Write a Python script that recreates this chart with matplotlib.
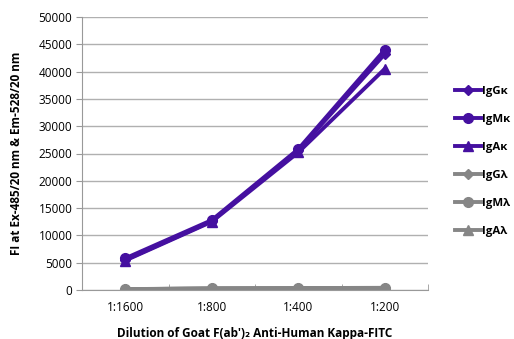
import matplotlib
matplotlib.use("Agg")
import matplotlib.pyplot as plt
import numpy as np

categories = ["1:1600", "1:800", "1:400", "1:200"]
series_names = ["IgG\u03ba", "IgM\u03ba", "IgA\u03ba", "IgG\u03bb", "IgM\u03bb", "IgA\u03bb"]
igg_k = [5500, 12600, 25600, 43200]
igm_k = [5800, 12800, 25800, 44000]
iga_k = [5400, 12500, 25200, 40500]
igg_l = [150, 280, 330, 380]
igm_l = [160, 300, 350, 400]
iga_l = [140, 270, 320, 370]
yticks = [0, 5000, 10000, 15000, 20000, 25000, 30000, 35000, 40000, 45000, 50000]

purple = "#4510a0"
gray = "#868686"
data = [igg_k, igm_k, iga_k, igg_l, igm_l, iga_l]
colors = [purple, purple, purple, gray, gray, gray]
markers = ["D", "o", "^", "D", "o", "^"]
msizes = [5, 7, 7, 5, 7, 7]

plt.rcParams['font.family'] = ['Open Sans', 'DejaVu Sans']
fig = plt.figure(figsize=(5.14, 3.39), dpi=100)
ax = fig.add_axes([82/514, 1 - 290/339, (428-82)/514, (290-17)/339])

x = np.arange(len(categories))
for vals, c, m, ms, name in zip(data, colors, markers, msizes, series_names):
    ax.plot(x, vals, color=c, marker=m, markersize=ms, linewidth=2.8, label=name)

ax.set_xlim(-0.5, len(categories) - 0.5)
ax.set_ylim(0, 50000)
ax.set_yticks(yticks)
ax.set_yticklabels([str(t) for t in yticks], fontsize=8.5)
ax.set_xticks(x)
ax.set_xticklabels(categories, fontsize=8.5)
ax.set_xticks(np.arange(-0.5, len(categories), 1.0), minor=True)
ax.tick_params(axis='x', which='major', length=0, pad=8)
ax.tick_params(axis='x', which='minor', length=4, color='#999999', direction='in')
ax.tick_params(axis='y', length=4, color='#999999', direction='out', pad=3)
ax.grid(axis='y', color='#b0b0b0', linewidth=1)
ax.set_axisbelow(True)
for s in ['top', 'right']:
    ax.spines[s].set_visible(False)
for s in ['left', 'bottom']:
    ax.spines[s].set_color('#999999')

ax.set_ylabel("FI at Ex-485/20 nm & Em-528/20 nm", fontsize=8.5, fontweight='bold', labelpad=11)
ax.set_xlabel("Dilution of Goat F(ab')\u2082 Anti-Human Kappa-FITC", fontsize=8.5, fontweight='bold', labelpad=9)

leg = fig.legend(loc='upper left', bbox_to_anchor=(455/514, 1 - 86/339), frameon=False,
                 handlelength=2.3, labelspacing=1.5, handletextpad=0.1, borderpad=0.0,
                 borderaxespad=0.0,
                 prop={'weight': 'bold', 'size': 8.2})

fig.savefig("out.png", dpi=100)
